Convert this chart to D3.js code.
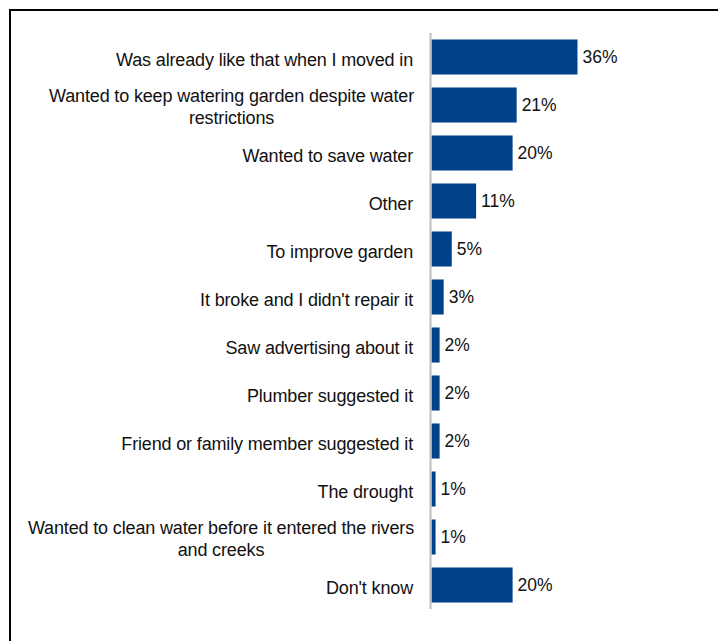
<!DOCTYPE html>
<html>
<head>
<meta charset="utf-8">
<script src="https://cdn.jsdelivr.net/npm/d3@7"></script>
<style>
  html, body { margin: 0; padding: 0; background: #fff; }
  svg { display: block; }
  text { font-family: "Liberation Sans", Arial, sans-serif; fill: #111; }
</style>
</head>
<body>
<svg id="chart" width="718" height="641"></svg>
<script>
// Reasons given, one entry per bar (multi-line labels split into lines)
const categories = [
  ["Was already like that when I moved in"],
  ["Wanted to keep watering garden despite water", "restrictions"],
  ["Wanted to save water"],
  ["Other"],
  ["To improve garden"],
  ["It broke and I didn't repair it"],
  ["Saw advertising about it"],
  ["Plumber suggested it"],
  ["Friend or family member suggested it"],
  ["The drought"],
  ["Wanted to clean water before it entered the rivers", "and creeks"],
  ["Don't know"]
];
// Share of respondents (%)
const values = [36, 21, 20, 11, 5, 3, 2, 2, 2, 1, 1, 20];
const valueLabels = values.map(v => v + "%");

const svg = d3.select("#chart");

// Outer frame (only its top and left edges fall inside the view)
svg.append("rect")
  .attr("x", 10).attr("y", 10)
  .attr("width", 900).attr("height", 900)
  .attr("fill", "none").attr("stroke", "#000").attr("stroke-width", 2);

const ids = d3.range(categories.length);

const y = d3.scaleBand()
  .domain(ids)
  .range([33, 609])
  .paddingInner(0.27)
  .paddingOuter(0.135);

const x = d3.scaleLinear()
  .domain([0, 40])
  .range([431.5, 431.5 + 162.2]);

const barColor = "#00428A";

// Bars
svg.append("g").selectAll("rect")
  .data(ids)
  .join("rect")
  .attr("x", x(0))
  .attr("y", i => y(i))
  .attr("width", i => x(values[i]) - x(0))
  .attr("height", y.bandwidth())
  .attr("fill", barColor);

// Category axis line
svg.append("line")
  .attr("x1", 430.5).attr("x2", 430.5)
  .attr("y1", y.range()[0]).attr("y2", y.range()[1])
  .attr("stroke", "#BEBEBE").attr("stroke-width", 2);

// Category labels
const labelRight = 414;
const lineGap = 22;
const labelG = svg.append("g")
  .attr("font-size", 18)
  .attr("letter-spacing", "-0.15px");

ids.forEach(i => {
  const lines = categories[i];
  const cy = y(i) + y.bandwidth() / 2;
  if (lines.length === 1) {
    labelG.append("text")
      .attr("x", labelRight - 1)
      .attr("y", cy + 3)
      .attr("dy", "0.35em")
      .attr("text-anchor", "end")
      .text(lines[0]);
  } else {
    const t = labelG.append("text").attr("text-anchor", "middle");
    const spans = lines.map((ln, k) => t.append("tspan")
      .attr("y", cy + 2 + (k - (lines.length - 1) / 2) * lineGap)
      .attr("dy", "0.35em")
      .text(ln));
    const maxW = d3.max(spans, s => s.node().getComputedTextLength());
    spans.forEach(s => s.attr("x", labelRight - maxW / 2));
  }
});

// Value labels
svg.append("g").attr("font-size", 17.5)
  .selectAll("text")
  .data(ids)
  .join("text")
  .attr("x", i => x(values[i]) + 5)
  .attr("y", i => y(i) + y.bandwidth() / 2)
  .attr("dy", "0.35em")
  .text(i => valueLabels[i]);
</script>
</body>
</html>
